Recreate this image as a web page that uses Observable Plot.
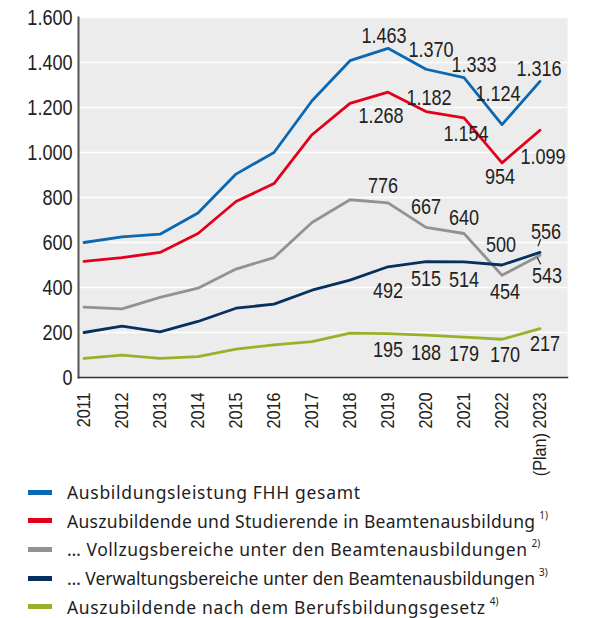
<!DOCTYPE html>
<html><head><meta charset="utf-8">
<script src="https://cdn.jsdelivr.net/npm/d3@7"></script>
<script src="https://cdn.jsdelivr.net/npm/@observablehq/plot@0.6"></script>
<style>
body{margin:0;background:#fff;}
#chart{width:591px;}
.legend{font-family:"Noto Sans","Open Sans",sans-serif;font-size:17.5px;color:#1e1e1e;margin-top:-2px;}
.row{display:flex;align-items:center;height:28.6px;white-space:nowrap;}
.sw{width:24px;height:5px;margin-left:28px;margin-right:15px;flex:none;}
.sup{font-size:10px;position:relative;top:-6px;margin-left:4px;}
</style></head><body><div id="chart"></div><div class="legend" id="legend"></div>
<script>
const years = [2011,2012,2013,2014,2015,2016,2017,2018,2019,2020,2021,2022,2023];
const xTickLabels = ["2011","2012","2013","2014","2015","2016","2017","2018","2019","2020","2021","2022","(Plan) 2023"];
const yTicks = [0,200,400,600,800,1000,1200,1400,1600];
const gesamt     = [600,625,637,731,904,1000,1230,1408,1463,1370,1333,1124,1316];
const beamten    = [516,533,556,640,782,862,1079,1218,1268,1182,1154,954,1099];
const vollzug    = [313,305,356,397,482,533,689,790,776,667,640,454,543];
const verwaltung = [200,228,203,249,308,326,388,433,492,515,514,500,556];
const bbig       = [85,99,85,93,126,145,159,197,195,188,179,170,217];
const seriesNames = [
  "Ausbildungsleistung FHH gesamt",
  "Auszubildende und Studierende in Beamtenausbildung",
  "… Vollzugsbereiche unter den Beamtenausbildungen",
  "… Verwaltungsbereiche unter den Beamtenausbildungen",
  "Auszubildende nach dem Berufsbildungsgesetz"
];
const footnotes = ["", "1)", "2)", "3)", "4)"];
const labelledYears = [2019,2020,2021,2022,2023];

// styling / placement (not data)
const colors = ["#0a67b2","#e2001a","#929292","#06305f","#98b12a"];
const labelOffsets = [
  [[-4,-12],[5,-19],[10,-13],[-4,-31],[-1,-12]],
  [[-7,24],[3,-14],[2,16],[-2,14],[3,27]],
  [[-5,-17],[0,-20],[0,-16],[3,17],[7,21]],
  [[0,24],[0,17],[0,18],[-1,-20],[6,-20]],
  [[0,16],[0,18],[0,17],[3,16],[5,15]]
];
const legendTextEnds = [360, 535, 527, 535, 485];

const allSeries = [gesamt, beamten, vollzug, verwaltung, bbig];
const de = d3.formatLocale({decimal:",", thousands:".", grouping:[3], currency:["","€"]});
const fmt = de.format(",");
const FONT = '"Liberation Sans",Arial,sans-serif';

const rows = [];
allSeries.forEach((vals, s) => years.forEach((y, i) => rows.push({series: seriesNames[s], s, year: y, value: vals[i]})));

const lineMarks = allSeries.map((vals, s) =>
  Plot.line(rows.filter(d => d.s === s), {x: "year", y: "value", stroke: colors[s], strokeWidth: 2.8, curve: "linear"})
);

const labelMarks = [];
allSeries.forEach((vals, s) => {
  labelledYears.forEach((yr, k) => {
    const d = rows.find(r => r.s === s && r.year === yr);
    const [dx, dy] = labelOffsets[s][k];
    labelMarks.push(Plot.text([d], {x: "year", y: "value", text: r => fmt(r.value), dx, dy,
      fontSize: 22, fill: "#222", textAnchor: "middle", lineAnchor: "middle"}));
  });
});

function leaders(index, scales) {
  const g = d3.create("svg:g").attr("stroke", "#222").attr("stroke-width", 1.2).attr("fill", "none");
  const px = scales.x(2023);
  const pv = scales.y(verwaltung[12]);
  const pg = scales.y(vollzug[12]);
  g.append("line").attr("x1", px - 1.5).attr("y1", pv - 5.6).attr("x2", px + 1.2).attr("y2", pv - 12.9);
  g.append("line").attr("x1", px - 2.2).attr("y1", pg + 2.8).attr("x2", px + 1.2).attr("y2", pg + 9.5);
  return g.node();
}

const chart = Plot.plot({
  width: 591,
  height: 480,
  marginLeft: 78,
  marginRight: 24,
  marginTop: 17,
  marginBottom: 103,
  style: {fontFamily: FONT, color: "#222", background: "#fff"},
  x: {type: "linear", domain: [2011, 2023], insetLeft: 5.5, insetRight: 27.5},
  y: {domain: [0, 1600]},
  marks: [
    Plot.frame({fill: "#ececec", stroke: null}),
    Plot.gridY(yTicks, {stroke: "#fff", strokeOpacity: 1, strokeWidth: 1.5}),
    Plot.frame({anchor: "left", stroke: "#555", strokeWidth: 2}),
    Plot.frame({anchor: "bottom", stroke: "#333", strokeWidth: 1.5}),
    Plot.axisY({ticks: yTicks, tickSize: 0, tickPadding: 6, tickFormat: fmt, fontSize: 22, label: null}),
    Plot.axisX({ticks: years, tickSize: 0, tickPadding: 15, tickRotate: -90, fontSize: 18, label: null,
      tickFormat: d => xTickLabels[years.indexOf(d)]}),
    ...lineMarks,
    ...labelMarks,
    leaders
  ]
});
document.getElementById("chart").appendChild(chart);

// condense glyphs along the text direction (the original uses a condensed typeface)
chart.querySelectorAll("text").forEach(t => {
  const g = t.closest("g[aria-label]");
  const isX = g && g.getAttribute("aria-label") === "x-axis tick label";
  const s = isX ? 0.9 : 0.82;
  const len = t.getComputedTextLength();
  if (len > 0) {
    t.setAttribute("textLength", (len * s).toFixed(2));
    t.setAttribute("lengthAdjust", "spacingAndGlyphs");
  }
});

const legend = document.getElementById("legend");
seriesNames.forEach((name, i) => {
  const row = document.createElement("div");
  row.className = "row";
  const sw = document.createElement("span");
  sw.className = "sw"; sw.style.background = colors[i];
  const t = document.createElement("span");
  t.textContent = name;
  row.appendChild(sw); row.appendChild(t);
  if (footnotes[i]) {
    const sup = document.createElement("span");
    sup.className = "sup"; sup.textContent = footnotes[i];
    row.appendChild(sup);
  }
  legend.appendChild(row);
  const r = t.getBoundingClientRect();
  const extra = legendTextEnds[i] - r.right;
  t.style.letterSpacing = (extra / Math.max(1, name.length - 1)) + "px";
});
</script></body></html>
